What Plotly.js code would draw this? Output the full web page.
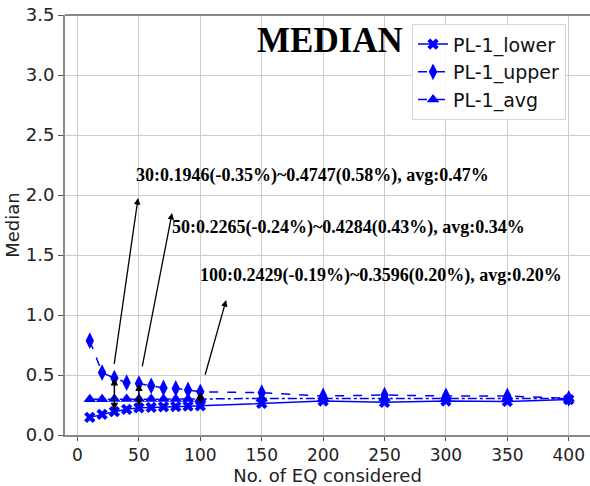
<!DOCTYPE html>
<html><head><meta charset="utf-8">
<script src="https://cdn.plot.ly/plotly-3.0.1.min.js"></script>
<style>html,body{margin:0;padding:0;background:#fff}#chart{width:590px;height:486px}</style>
</head><body><div id="chart"></div>
<script>
const eqCounts = [10,20,30,40,50,60,70,80,90,100,150,200,250,300,350,400];
const lowerVals = [0.147,0.172,0.1946,0.214,0.2265,0.230,0.235,0.237,0.240,0.2429,0.264,0.283,0.272,0.283,0.280,0.295];
const upperVals = [0.786,0.520,0.4747,0.436,0.4284,0.410,0.392,0.388,0.375,0.3596,0.353,0.325,0.333,0.325,0.325,0.305];
const avgVals   = [0.297,0.297,0.300,0.300,0.300,0.300,0.300,0.300,0.300,0.300,0.305,0.305,0.305,0.305,0.305,0.305];
const seriesNames = ["PL-1_lower","PL-1_upper","PL-1_avg"];
const markedCounts = [30,50,100];
const noteTexts = [
  "30:0.1946(-0.35%)~0.4747(0.58%), avg:0.47%",
  "50:0.2265(-0.24%)~0.4284(0.43%), avg:0.34%",
  "100:0.2429(-0.19%)~0.3596(0.20%), avg:0.20%"
];
const yTicks = [0,0.5,1,1.5,2,2.5,3,3.5];
const xTicks = [0,50,100,150,200,250,300,350,400];

const blue = "#0000ff";
const traces = [
  {x: eqCounts, y: lowerVals, name: seriesNames[0], mode: "lines+markers",
   line: {color: blue, width: 1.5, dash: "solid"},
   marker: {symbol: "x", size: 10, color: blue}},
  {x: eqCounts, y: upperVals, name: seriesNames[1], mode: "lines+markers",
   line: {color: blue, width: 1.5, dash: "dash"},
   marker: {symbol: "diamond-tall", size: 12, color: blue}},
  {x: eqCounts, y: avgVals, name: seriesNames[2], mode: "lines+markers",
   line: {color: blue, width: 1.5, dash: "dashdot"},
   marker: {symbol: "triangle-up", size: 11, color: blue}}
];

const annotations = [];
markedCounts.forEach(function(c){
  const i = eqCounts.indexOf(c);
  annotations.push({x: c, y: upperVals[i], ax: c, ay: lowerVals[i], xref: "x", yref: "y",
    axref: "x", ayref: "y", text: "", showarrow: true, arrowhead: 2, arrowside: "end+start",
    arrowsize: 1, arrowwidth: 1.5, arrowcolor: "#000"});
});
const pointerArrows = [
  {tip: [49.3, 1.975], tail: [29.7, 0.58]},
  {tip: [77.0, 1.85], tail: [52.5, 0.56]},
  {tip: [121.0, 1.125], tail: [103.6, 0.49]}
];
pointerArrows.forEach(function(a){
  annotations.push({x: a.tip[0], y: a.tip[1], ax: a.tail[0], ay: a.tail[1], xref: "x", yref: "y",
    axref: "x", ayref: "y", text: "", showarrow: true, arrowhead: 2, arrowsize: 1,
    arrowwidth: 1.3, arrowcolor: "#000"});
});
const notePos = [[134,175],[170,227],[198,275]];
noteTexts.forEach(function(t, k){
  annotations.push({text: t, xref: "paper", yref: "paper",
    x: (notePos[k][0]-65)/525, y: 1-(notePos[k][1]-15)/420, xanchor: "left", yanchor: "middle",
    showarrow: false, font: {family: "Liberation Serif, Times New Roman, serif", size: 18, color: "#000", weight: "bold"}});
});
annotations.push({text: "<b>MEDIAN</b>", xref: "paper", yref: "paper",
  x: (255-65)/525, y: 1-(40-15)/420, xanchor: "left", yanchor: "middle", showarrow: false,
  font: {family: "Liberation Serif, Times New Roman, serif", size: 35, color: "#000"}});

const tickFont = {family: "DejaVu Sans, sans-serif", size: 18, color: "#222"};
const xTickFont = {family: "DejaVu Sans, sans-serif", size: 17, color: "#222"};
const titleFont = {family: "DejaVu Sans, sans-serif", size: 18, color: "#222"};
const layout = {
  width: 590, height: 486,
  margin: {l: 65, r: 0, t: 15, b: 51},
  paper_bgcolor: "#fff", plot_bgcolor: "#fff",
  showlegend: true,
  legend: {x: 0.661, y: 0.978, xanchor: "left", yanchor: "top",
    bgcolor: "rgba(255,255,255,0.85)", bordercolor: "#d6d6d6", borderwidth: 1,
    font: {family: "DejaVu Sans, sans-serif", size: 19, color: "#111"}, tracegroupgap: 0},
  xaxis: {range: [-10.2, 417.3], tickvals: xTicks, ticktext: xTicks.map(String),
    showgrid: true, gridcolor: "#cccccc", gridwidth: 1, zeroline: false,
    showline: true, linecolor: "#888", linewidth: 2, ticks: "outside", ticklen: 4, tickcolor: "#555",
    tickfont: xTickFont,
    title: {text: "No. of EQ considered", font: titleFont, standoff: 7}},
  yaxis: {range: [0, 3.5], tickvals: yTicks, ticktext: yTicks.map(function(v){return v.toFixed(1);}),
    showgrid: true, gridcolor: "#cccccc", gridwidth: 1, zeroline: false,
    showline: true, linecolor: "#888", linewidth: 2, ticks: "outside", ticklen: 5, tickcolor: "#555",
    tickfont: tickFont,
    title: {text: "Median", font: titleFont, standoff: 1}},
  shapes: [{type: "line", xref: "paper", yref: "paper", x0: 0, x1: 1, y0: 1, y1: 1,
    line: {color: "#888", width: 2}}],
  annotations: annotations
};
Plotly.newPlot("chart", traces, layout, {displayModeBar: false, staticPlot: true});
</script></body></html>
